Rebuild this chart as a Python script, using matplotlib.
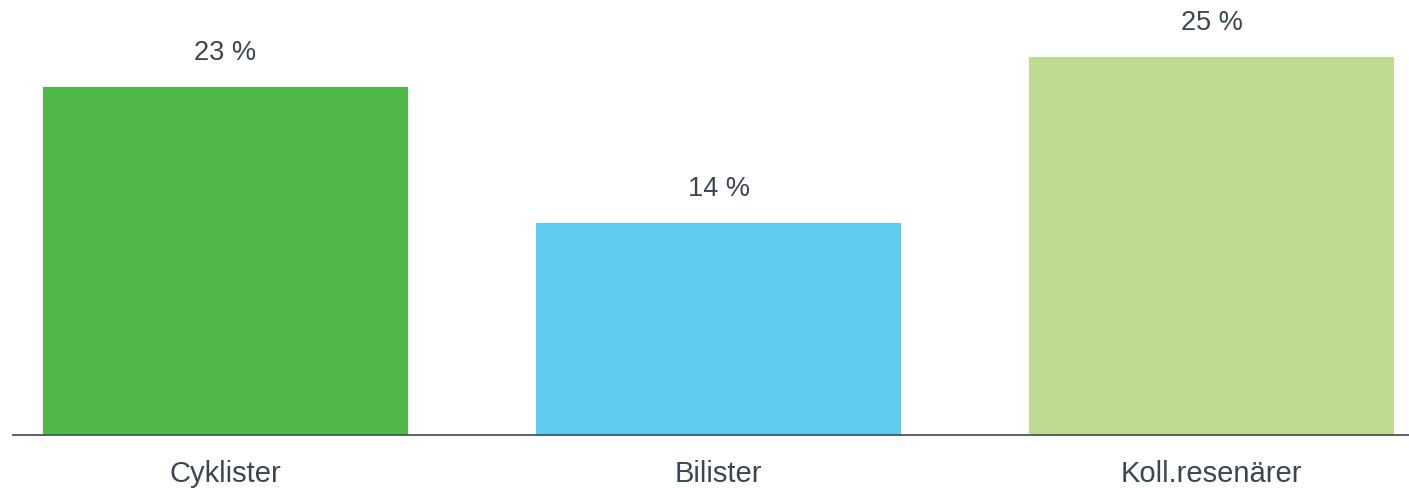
import matplotlib.pyplot as plt

# データ
categories = ['Cyklister', 'Bilister', 'Koll.resenärer']
values = [23, 14, 25]
colors = ['#4fb848', '#5ecbf1', '#bddb91']

text_color = '#3b4650'

fig = plt.figure(figsize=(14.09, 4.89), dpi=100)
ax = fig.add_axes([13 / 1409, 53 / 489, 1 - 13 / 1409, 436 / 489])

x = range(len(categories))
bars = ax.bar(x, values, width=0.74, color=colors)

# 値ラベル
for xi, v in zip(x, values):
    ax.annotate(f'{v} %', (xi, v), xytext=(0, 25), textcoords='offset points',
                ha='center', va='center', fontsize=19.5, color=text_color,
                family='Liberation Sans')

ax.set_xlim(-0.431, 2.4)
ax.set_ylim(0, 28.8)
ax.set_xticks(list(x))
ax.set_xticklabels(categories, fontsize=21, color=text_color, family='Liberation Sans')
ax.tick_params(axis='x', length=0, pad=17)
ax.set_yticks([])

for s in ['top', 'right', 'left']:
    ax.spines[s].set_visible(False)
ax.spines['bottom'].set_color('#4a5560')
ax.spines['bottom'].set_linewidth(1.3)

plt.savefig('out.png', dpi=100)
